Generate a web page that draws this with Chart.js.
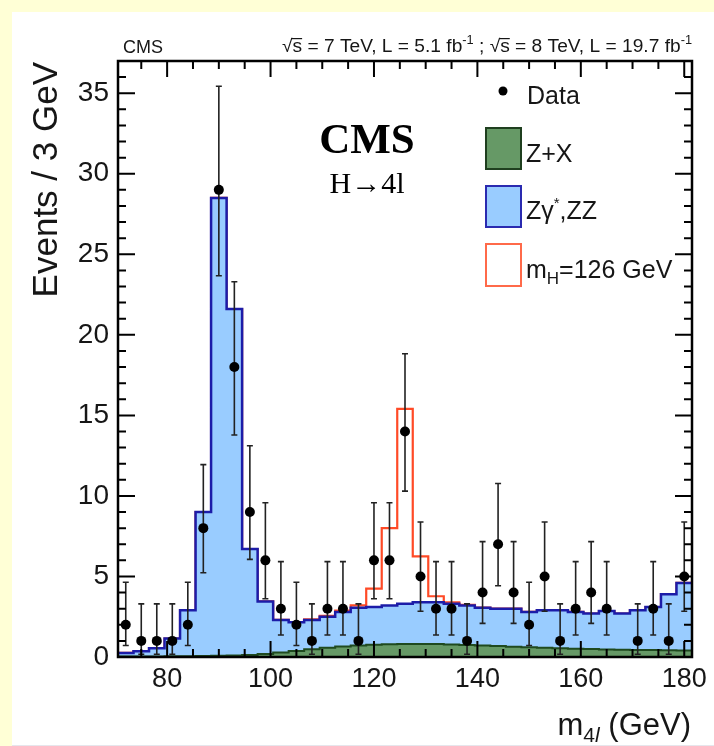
<!DOCTYPE html>
<html><head><meta charset="utf-8">
<script src="https://cdn.jsdelivr.net/npm/chart.js@4.4.1/dist/chart.umd.min.js"></script>
<style>
html,body{margin:0;padding:0;background:#ffffd6;overflow:hidden}
#wrap{position:absolute;left:0;top:0;width:714px;height:746px}
</style>
</head><body><div id="wrap"><canvas id="c" width="714" height="746"></canvas></div>
<script>
// ---- data (bin centres in GeV, 3 GeV bins) ----
const massBins = [72,75,78,81,84,87,90,93,96,99,102,105,108,111,114,117,120,123,126,129,132,135,138,141,144,147,150,153,156,159,162,165,168,171,174,177,180];
const binWidth = 3;
const dataEvents = [2,1,1,1,2,8,29,18,9,6,3,2,1,3,3,1,6,6,14,5,3,3,1,4,7,4,2,5,1,3,4,3,null,1,3,1,5];
const dataErrDown = [1.29,0.83,0.83,0.83,1.29,2.77,5.33,4.22,2.94,2.38,1.63,1.29,0.83,1.63,1.63,0.83,2.38,2.38,3.70,2.16,1.63,1.63,0.83,1.91,2.58,1.91,1.29,2.16,0.83,1.63,1.91,1.63,null,0.83,1.63,0.83,2.16];
const dataErrUp = [2.64,2.30,2.30,2.30,2.64,3.94,6.43,5.30,4.11,3.58,2.92,2.64,2.30,2.92,2.92,2.30,3.58,3.58,4.83,3.38,2.92,2.92,2.30,3.16,3.77,3.16,2.64,3.38,2.30,2.92,3.16,2.92,null,2.30,2.92,2.30,3.38];
const zxEvents = [0.03,0.03,0.03,0.04,0.05,0.06,0.07,0.09,0.12,0.18,0.28,0.38,0.48,0.57,0.65,0.71,0.76,0.79,0.81,0.81,0.80,0.78,0.75,0.72,0.68,0.64,0.60,0.57,0.54,0.51,0.49,0.47,0.45,0.44,0.43,0.42,0.41];
const zzEvents = [0.22,0.32,0.52,1.11,2.85,8.94,28.43,21.51,6.58,3.27,2.02,1.77,1.82,1.93,2.15,2.34,2.34,2.41,2.49,2.59,2.60,2.52,2.45,2.33,2.32,2.36,2.20,2.33,2.36,2.29,2.21,2.38,2.25,2.46,2.67,3.48,4.19];
const higgsEvents = [0,0,0,0,0,0,0,0,0,0,0,0,0.03,0.05,0.08,0.15,1.15,4.80,12.10,2.85,0.37,0.10,0.04,0.02,0,0,0,0,0,0,0,0,0,0,0,0,0];
const xTickValues = [80,100,120,140,160,180];
const yTickValues = [0,5,10,15,20,25,30,35];
const xRange = [70.5, 181.5];
const yRange = [0, 37];

// ---- tables built for the library ----
function stepPoints(values){
  const pts = massBins.map((c,i)=>({x:c-binWidth/2, y:values[i]}));
  pts.push({x:massBins[massBins.length-1]+binWidth/2, y:values[values.length-1]});
  return pts;
}
const zxTop = zxEvents.slice();
const zzTop = zzEvents.map((v,i)=>v+zxEvents[i]);
const sigTop = higgsEvents.map((v,i)=>v+zzTop[i]);
const dataPoints = [];
massBins.forEach((c,i)=>{ if(dataEvents[i]!==null) dataPoints.push({x:c,y:dataEvents[i]}); });

const SANS = '"Liberation Sans", Arial, Helvetica, sans-serif';
const SERIF = '"Liberation Serif", "Times New Roman", serif';
const TXT = '#161616';

const deco = {
  id:'deco',
  beforeDraw(chart){
    const ctx = chart.ctx;
    ctx.save();
    ctx.fillStyle = '#ffffd6';
    ctx.fillRect(0,0,chart.width,chart.height);
    ctx.fillStyle = '#ffffff';
    ctx.fillRect(12,12,chart.width-12,733);
    ctx.fillStyle = '#e6e6ec';
    ctx.fillRect(12,745,chart.width-12,1);
    ctx.restore();
  },
  beforeDatasetDraw(chart,args){
    if(args.index!==0) return;
    const ctx = chart.ctx, xs = chart.scales.x, ys = chart.scales.y;
    ctx.save();
    ctx.strokeStyle = '#222';
    ctx.lineWidth = 1.6;
    massBins.forEach((c,i)=>{
      if(dataEvents[i]===null) return;
      const px = xs.getPixelForValue(c);
      const yHi = ys.getPixelForValue(dataEvents[i]+dataErrUp[i]);
      const yLo = ys.getPixelForValue(dataEvents[i]-dataErrDown[i]);
      ctx.beginPath();
      ctx.moveTo(px,yHi); ctx.lineTo(px,yLo);
      ctx.moveTo(px-3,yHi); ctx.lineTo(px+3,yHi);
      ctx.moveTo(px-3,yLo); ctx.lineTo(px+3,yLo);
      ctx.stroke();
    });
    ctx.restore();
  },
  afterDraw(chart){
    const ctx = chart.ctx, xs = chart.scales.x, ys = chart.scales.y;
    const {left,right,top,bottom} = chart.chartArea;
    ctx.save();
    // frame
    ctx.strokeStyle = '#000';
    ctx.lineWidth = 2.5;
    ctx.strokeRect(left,top,right-left,bottom-top);
    // ticks
    ctx.lineWidth = 2;
    ctx.beginPath();
    for(let v=75; v<xRange[1]; v+=5){
      const px = xs.getPixelForValue(v);
      const len = (v%20===0)?16:8;
      ctx.moveTo(px,bottom); ctx.lineTo(px,bottom-len);
      ctx.moveTo(px,top); ctx.lineTo(px,top+len);
    }
    for(let v=1; v<yRange[1]; v+=1){
      const py = ys.getPixelForValue(v);
      const len = (v%5===0)?17:8;
      ctx.moveTo(left,py); ctx.lineTo(left+len,py);
      ctx.moveTo(right,py); ctx.lineTo(right-len,py);
    }
    ctx.stroke();

    ctx.fillStyle = TXT;
    ctx.textBaseline = 'alphabetic';
    // top-left CMS
    ctx.font = '18px '+SANS;
    ctx.textAlign = 'left';
    ctx.fillText('CMS', 123, 53);
    // header right
    const segs = [
      {t:'\u221A', f:18, dy:0},
      {t:'s', f:18, dy:0, over:true},
      {t:' = 7 TeV, L = 5.1 fb', f:18, dy:0},
      {t:'-1', f:12, dy:-8},
      {t:' ; ', f:18, dy:0},
      {t:'\u221A', f:18, dy:0},
      {t:'s', f:18, dy:0, over:true},
      {t:' = 8 TeV, L = 19.7 fb', f:18, dy:0},
      {t:'-1', f:12, dy:-8}
    ];
    let W = 0;
    segs.forEach(s=>{ ctx.font = s.f+'px '+SANS; s.w = ctx.measureText(s.t).width; W += s.w; });
    const sx = 410/W;
    ctx.save();
    ctx.translate(282,52);
    ctx.scale(sx,1);
    let cx = 0;
    segs.forEach(s=>{
      ctx.font = s.f+'px '+SANS;
      ctx.fillText(s.t, cx, s.dy);
      if(s.over){ ctx.fillRect(cx-1,-14,s.w+1,1.2); }
      cx += s.w;
    });
    ctx.restore();

    // big CMS
    ctx.textAlign = 'center';
    ctx.font = 'bold 43px '+SERIF;
    ctx.fillStyle = '#000';
    ctx.fillText('CMS', 367, 153);
    ctx.font = '30px '+SERIF;
    ctx.fillText('H\u21924l', 367, 193);

    // legend
    ctx.fillStyle = '#000';
    ctx.beginPath(); ctx.arc(503,91,4.5,0,Math.PI*2); ctx.fill();
    ctx.fillStyle = TXT;
    ctx.textAlign = 'left';
    ctx.font = '25px '+SANS;
    ctx.fillText('Data', 527, 104);

    ctx.lineWidth = 2;
    ctx.fillStyle = '#669966'; ctx.strokeStyle = '#1f3f1f';
    ctx.fillRect(486,128,35,41); ctx.strokeRect(486,128,35,41);
    ctx.fillStyle = '#99ccff'; ctx.strokeStyle = '#2a2ab0';
    ctx.fillRect(486,186,35,41); ctx.strokeRect(486,186,35,41);
    ctx.fillStyle = '#ffffff'; ctx.strokeStyle = '#ff6a4a';
    ctx.fillRect(486,244,35,42); ctx.strokeRect(486,244,35,42);

    ctx.fillStyle = TXT;
    ctx.font = '25px '+SANS;
    ctx.fillText('Z+X', 526, 162);
    let lx = 526;
    ctx.fillText('Z\u03B3', lx, 219); lx += ctx.measureText('Z\u03B3').width;
    ctx.font = '15px '+SANS; ctx.fillText('*', lx, 208); lx += ctx.measureText('*').width;
    ctx.font = '25px '+SANS; ctx.fillText(',ZZ', lx, 219);
    lx = 526;
    ctx.fillText('m', lx, 278); lx += ctx.measureText('m').width;
    ctx.font = '17px '+SANS; ctx.fillText('H', lx, 284); lx += ctx.measureText('H').width;
    ctx.font = '25px '+SANS; ctx.fillText('=126 GeV', lx, 278);

    // x title
    const xt = [
      {t:'m', f:'31px '+SANS, dy:0},
      {t:'4', f:'21px '+SANS, dy:7},
      {t:'l', f:'italic 21px '+SANS, dy:7},
      {t:' (GeV)', f:'31px '+SANS, dy:0}
    ];
    let XW = 0;
    xt.forEach(s=>{ ctx.font = s.f; s.w = ctx.measureText(s.t).width; XW += s.w; });
    let xx = 691 - XW;
    xt.forEach(s=>{ ctx.font = s.f; ctx.fillText(s.t, xx, 735+s.dy); xx += s.w; });

    // y title
    ctx.save();
    ctx.translate(47,62);
    ctx.rotate(-Math.PI/2);
    ctx.textAlign = 'right';
    ctx.textBaseline = 'middle';
    ctx.font = '35px '+SANS;
    ctx.fillText('Events / 3 GeV', 0, 0);
    ctx.restore();

    ctx.restore();
  }
};

new Chart(document.getElementById('c'), {
  type:'scatter',
  data:{
    datasets:[
      {label:'Data', data:dataPoints, pointRadius:5, pointHoverRadius:5, backgroundColor:'#000', borderWidth:0, showLine:false, order:0},
      {type:'line', label:'Z+X', data:stepPoints(zxTop), stepped:'before', fill:'origin', backgroundColor:'#669966', borderColor:'#1f4a1f', borderWidth:2, pointRadius:0, order:1},
      {type:'line', label:'Z\u03B3*,ZZ', data:stepPoints(zzTop), stepped:'before', fill:'origin', backgroundColor:'#99ccff', borderColor:'#1c1ca8', borderWidth:2.5, pointRadius:0, order:2},
      {type:'line', label:'mH=126 GeV', data:stepPoints(sigTop), stepped:'before', fill:false, borderColor:'#ff4a26', borderWidth:2.2, pointRadius:0, order:3}
    ]
  },
  options:{
    responsive:false,
    animation:false,
    devicePixelRatio:1,
    layout:{padding:{top:61,right:22,left:0,bottom:0}},
    plugins:{legend:{display:false}, tooltip:{enabled:false}},
    scales:{
      x:{type:'linear', min:xRange[0], max:xRange[1],
        grid:{display:false, drawTicks:false}, border:{display:false},
        afterBuildTicks:s=>{ s.ticks = xTickValues.map(v=>({value:v})); },
        afterFit:s=>{ s.height = 89; },
        ticks:{font:{family:SANS, size:27}, color:TXT, padding:6, maxRotation:0, autoSkip:false, callback:v=>String(v)}},
      y:{type:'linear', min:yRange[0], max:yRange[1],
        grid:{display:false, drawTicks:false}, border:{display:false},
        afterBuildTicks:s=>{ s.ticks = yTickValues.map(v=>({value:v})); },
        afterFit:s=>{ s.width = 118; },
        ticks:{font:{family:SANS, size:28}, color:TXT, padding:9, autoSkip:false, callback:v=>String(v)}}
    }
  },
  plugins:[deco]
});
</script>
</body></html>
